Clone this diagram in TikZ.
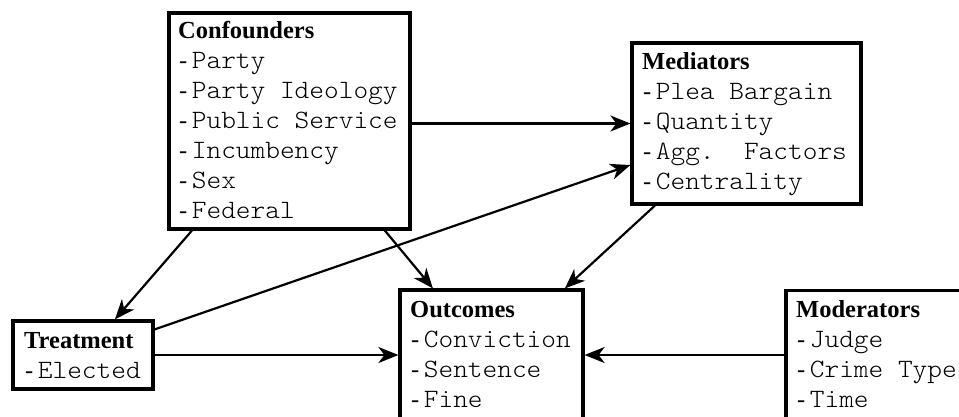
\documentclass[tikz,border=0pt]{standalone}
\usepackage{fontspec}
\setmainfont{Liberation Serif}
\setmonofont[Scale=1.08,FakeStretch=1.058]{Latin Modern Mono Light}
\usetikzlibrary{arrows.meta,calc}
\newcommand\blocktext[2]{\vtop{\baselineskip=30pt\lineskiplimit=-100pt\hbox{\bfseries #1}#2}}
\newcommand\dagitem[1]{\hbox{\kern1pt-\kern4.5pt\texttt{#1}}}
\begin{document}
\begin{tikzpicture}[x=1pt,y=-1pt,
  box/.style={draw=black, line width=3.2pt, inner sep=0pt},
  txt/.style={anchor=base west, inner sep=0pt, font=\fontsize{24.5}{30}\selectfont},
  arr/.style={draw=black, line width=2.2pt, -{Stealth[length=20pt,width=16pt,inset=6pt]}}]
\useasboundingbox (0,0) rectangle (959,416);
\clip (0,0) rectangle (959,416);
% boxes
\node[box, minimum width=241pt, minimum height=216pt] (conf) at (289.5,121) {};
\node[box, minimum width=229pt, minimum height=161pt] (med) at (746.5,123.5) {};
\node[box, minimum width=140pt, minimum height=68pt] (treat) at (83,355) {};
\node[box, minimum width=183pt, minimum height=170pt] (out) at (491.5,375) {};
\node[box, minimum width=224pt, minimum height=170pt] (mod) at (898,375.7) {};
% texts
\node[txt] (conft) at (178,38) {\blocktext{Confounders}{\dagitem{Party}\dagitem{Party Ideology}\dagitem{Public Service}\dagitem{Incumbency}\dagitem{Sex}\dagitem{Federal}}};
\node[txt] (medt) at (642,69.5) {\blocktext{Mediators}{\dagitem{Plea Bargain}\dagitem{Quantity}\dagitem{Agg.\ \ Factors}\dagitem{Centrality}}};
\node[txt] (treatt) at (24,348) {\blocktext{Treatment}{\dagitem{Elected}}};
\node[txt] (outt) at (410,317) {\blocktext{Outcomes}{\dagitem{Conviction}\dagitem{Sentence}\dagitem{Fine}}};
\node[txt] (modt) at (796,317) {\blocktext{Moderators}{\dagitem{Judge}\dagitem{Crime Type}\dagitem{Time}}};
% connectors
\draw[arr] (conf.east |- med.west) -- (med.west);
\draw[arr] ([xshift=24.5pt]conf.south west) -- ([xshift=103.5pt]treat.north west);
\draw[arr] ([xshift=217.5pt]conf.south west) -- ([xshift=34.5pt]out.north west);
\draw[arr] ([yshift=-10pt]treat.north east) -- ([yshift=-41.5pt]med.west);
\draw[arr] (treat.east) -- (treat.east -| out.west);
\draw[arr] ([xshift=24.5pt]med.south west) -- ([xshift=166.5pt]out.north west);
\draw[arr] (treat.east -| mod.west) -- (treat.east -| out.east);
\end{tikzpicture}
\end{document}
